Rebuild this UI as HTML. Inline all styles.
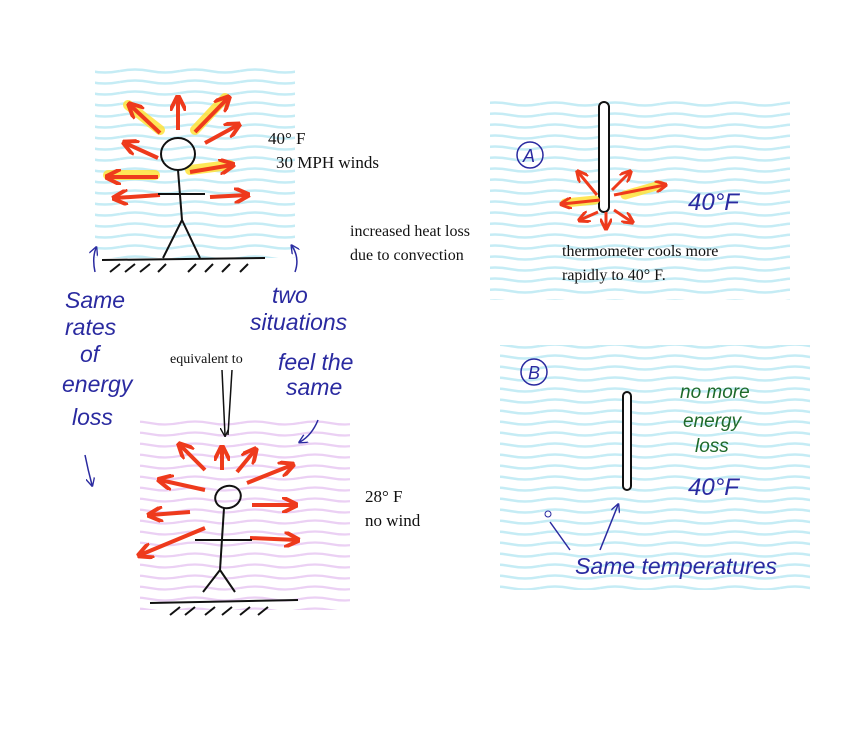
<!DOCTYPE html>
<html><head><meta charset="utf-8"><style>
html,body{margin:0;padding:0;background:#fff;}
svg{display:block}
.s{font-family:"Liberation Serif",serif;fill:#111}
.h{font-family:"Liberation Sans",sans-serif;font-style:italic;fill:#2a2aa0}
</style></head><body>
<svg width="845" height="735" viewBox="0 0 845 735" xmlns="http://www.w3.org/2000/svg">
<defs>
<pattern id="cy" width="60" height="11" patternUnits="userSpaceOnUse">
<path d="M0 5 Q15 2 30 5 T60 5" stroke="#9ee0ee" stroke-width="2.5" fill="none"/>
</pattern>
<pattern id="pk" width="60" height="11" patternUnits="userSpaceOnUse">
<path d="M0 5 Q15 2 30 5 T60 5" stroke="#ddb0ec" stroke-width="2.3" fill="none"/>
</pattern>
<marker id="ar" viewBox="0 0 10 10" refX="8" refY="5" markerWidth="4" markerHeight="4" orient="auto"><path d="M0 0 L10 5 L0 10" fill="none" stroke="#ee3a1c" stroke-width="2.5"/></marker>
<marker id="bl" viewBox="0 0 10 10" refX="8" refY="5" markerWidth="6" markerHeight="6" orient="auto"><path d="M0 0 L10 5 L0 10" fill="none" stroke="#2a2aa0" stroke-width="1.5"/></marker>
<marker id="bk" viewBox="0 0 10 10" refX="8" refY="5" markerWidth="6" markerHeight="6" orient="auto"><path d="M0 0 L10 5 L0 10" fill="none" stroke="#111" stroke-width="1.5"/></marker>
</defs>
<rect x="95" y="68" width="200" height="190" fill="url(#cy)" opacity="0.6"/>
<rect x="490" y="100" width="300" height="200" fill="url(#cy)" opacity="0.6"/>
<rect x="500" y="345" width="310" height="245" fill="url(#cy)" opacity="0.6"/>
<rect x="140" y="420" width="210" height="190" fill="url(#pk)" opacity="0.6"/>

<g stroke="#ffe23a" stroke-width="10" stroke-linecap="round" opacity="0.85" fill="none">
<line x1="160" y1="130" x2="128" y2="105"/><line x1="195" y1="130" x2="225" y2="98"/>
<line x1="155" y1="175" x2="108" y2="175"/><line x1="190" y1="170" x2="230" y2="165"/>
</g>
<g stroke="#ee3a1c" stroke-width="4" fill="none" marker-end="url(#ar)">
<line x1="160" y1="133" x2="130" y2="105"/><line x1="178" y1="130" x2="178" y2="98"/>
<line x1="195" y1="132" x2="228" y2="98"/><line x1="205" y1="143" x2="238" y2="125"/>
<line x1="158" y1="158" x2="125" y2="143"/><line x1="158" y1="177" x2="108" y2="177"/>
<line x1="190" y1="172" x2="232" y2="165"/><line x1="160" y1="195" x2="115" y2="198"/>
<line x1="210" y1="197" x2="247" y2="195"/>
</g>
<g stroke="#111" stroke-width="2" fill="none">
<ellipse cx="178" cy="154" rx="17" ry="16"/>
<line x1="178" y1="170" x2="182" y2="220"/><line x1="158" y1="194" x2="205" y2="194"/>
<path d="M182 220 L163 258 M182 220 L200 258"/>
<line x1="102" y1="260" x2="265" y2="258"/>
<path d="M110 272 l10-8 M125 272 l10-8 M140 272 l10-8 M158 272 l8-8 M188 272 l8-8 M205 272 l8-8 M222 272 l8-8 M240 272 l8-8"/>
</g>
<text class="s" x="268" y="144" font-size="17">40° F</text>
<text class="s" x="276" y="168" font-size="17">30 MPH winds</text>
<text class="s" x="350" y="236" font-size="16">increased heat loss</text>
<text class="s" x="350" y="260" font-size="16">due to convection</text>

<g stroke="#111" stroke-width="2" fill="#fff"><rect x="599" y="102" width="10" height="110" rx="5"/></g>
<g stroke="#ffe23a" stroke-width="9" stroke-linecap="round" opacity="0.85"><line x1="595" y1="200" x2="565" y2="203"/><line x1="625" y1="195" x2="660" y2="185"/></g>
<g stroke="#ee3a1c" stroke-width="3" fill="none" marker-end="url(#ar)">
<line x1="597" y1="195" x2="578" y2="172"/><line x1="600" y1="200" x2="562" y2="204"/>
<line x1="612" y1="190" x2="630" y2="172"/><line x1="614" y1="195" x2="665" y2="185"/>
<line x1="598" y1="212" x2="580" y2="220"/><line x1="606" y1="212" x2="606" y2="228"/>
<line x1="614" y1="210" x2="632" y2="222"/>
</g>
<circle cx="530" cy="155" r="13" fill="none" stroke="#2a2aa0" stroke-width="1.5"/>
<text class="h" x="523" y="162" font-size="18">A</text>
<text class="h" x="688" y="210" font-size="24" font-style="normal">40°F</text>
<text class="s" x="562" y="256" font-size="16">thermometer cools more</text>
<text class="s" x="562" y="280" font-size="16">rapidly to 40° F.</text>

<g stroke="#2a2aa0" stroke-width="1.5" fill="none">
<path d="M95 272 Q92 258 96 248" marker-end="url(#bl)"/>
<path d="M295 272 Q300 258 292 246" marker-end="url(#bl)"/>
<path d="M85 455 Q88 470 92 485" marker-end="url(#bl)"/>
<path d="M318 420 Q312 435 300 442" marker-end="url(#bl)"/>
</g>
<g class="h" font-size="23">
<text x="65" y="308">Same</text><text x="65" y="335">rates</text><text x="80" y="362">of</text>
<text x="62" y="392">energy</text><text x="72" y="425">loss</text>
<text x="272" y="303">two</text><text x="250" y="330">situations</text>
<text x="278" y="370">feel the</text><text x="286" y="395">same</text>
</g>
<text class="s" x="170" y="363" font-size="14">equivalent to</text>
<g stroke="#111" stroke-width="1.5"><line x1="222" y1="370" x2="225" y2="435" marker-end="url(#bk)"/><line x1="232" y1="370" x2="228" y2="435"/></g>

<g stroke="#ee3a1c" stroke-width="4" fill="none" marker-end="url(#ar)">
<line x1="205" y1="470" x2="180" y2="445"/><line x1="222" y1="470" x2="222" y2="448"/>
<line x1="237" y1="472" x2="255" y2="450"/><line x1="247" y1="483" x2="292" y2="465"/>
<line x1="205" y1="490" x2="160" y2="480"/><line x1="252" y1="505" x2="295" y2="505"/>
<line x1="205" y1="528" x2="140" y2="555"/><line x1="250" y1="538" x2="297" y2="540"/>
<line x1="190" y1="512" x2="150" y2="515"/>
</g>
<g stroke="#111" stroke-width="2" fill="none">
<ellipse cx="228" cy="497" rx="13" ry="11" transform="rotate(-20 228 497)"/>
<line x1="224" y1="508" x2="220" y2="570"/><line x1="195" y1="540" x2="252" y2="540"/>
<path d="M220 570 L203 592 M220 570 L235 592"/>
<line x1="150" y1="603" x2="298" y2="600"/>
<path d="M170 615 l10-8 M185 615 l10-8 M205 615 l10-8 M222 615 l10-8 M240 615 l10-8 M258 615 l10-8"/>
</g>
<text class="s" x="365" y="502" font-size="17">28° F</text>
<text class="s" x="365" y="526" font-size="17">no wind</text>

<rect x="623" y="392" width="8" height="98" rx="4" fill="#fff" stroke="#111" stroke-width="2"/>
<circle cx="534" cy="372" r="13" fill="none" stroke="#2a2aa0" stroke-width="1.5"/>
<text class="h" x="528" y="379" font-size="18">B</text>
<g class="h" font-size="19" style="fill:#1e6a2a">
<text x="680" y="398">no more</text><text x="683" y="427">energy</text><text x="695" y="452">loss</text>
</g>
<text class="h" x="688" y="495" font-size="24" font-style="normal">40°F</text>
<circle cx="548" cy="514" r="3" fill="none" stroke="#2a2aa0"/>
<g stroke="#2a2aa0" stroke-width="1.5" fill="none">
<path d="M570 550 L550 522"/><path d="M600 550 L618 505" marker-end="url(#bl)"/>
</g>
<text class="h" x="575" y="574" font-size="23">Same temperatures</text>
</svg>
</body></html>
